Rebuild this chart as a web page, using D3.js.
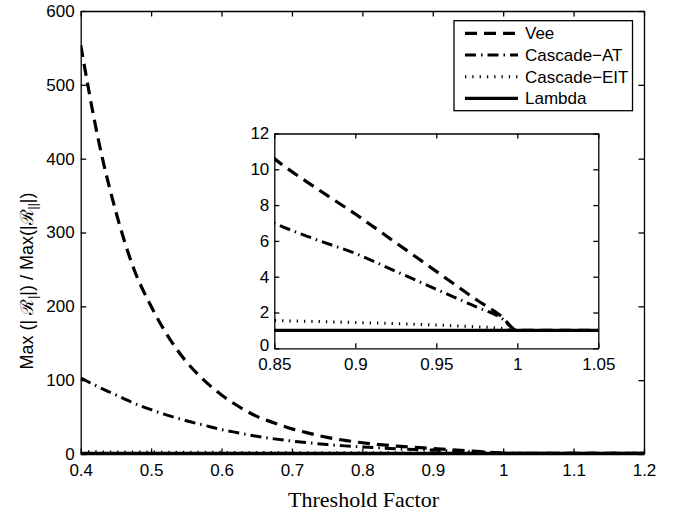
<!DOCTYPE html>
<html>
<head>
<meta charset="utf-8">
<script src="https://cdn.jsdelivr.net/npm/d3@7"></script>
<style>
  body { margin: 0; background: #fff; }
  text { font-family: "Liberation Sans", Arial, sans-serif; fill: #000; }
  .axis path, .axis line { stroke: #000; stroke-width: 1.3; }
  .axis text { font-size: 17px; font-family: "Liberation Sans", Arial, sans-serif; }
</style>
</head>
<body>
<svg class="chart"></svg>
<script>
// threshold factor grid (shared by main plot and inset)
var thresh = [0.40, 0.425, 0.45, 0.475, 0.50, 0.525, 0.55, 0.575, 0.60, 0.625,
              0.65, 0.675, 0.70, 0.725, 0.75, 0.775, 0.80, 0.825, 0.85, 0.875,
              0.90, 0.925, 0.95, 0.975, 0.99, 1.00, 1.05, 1.10, 1.15, 1.20];

var vee = [554, 426, 328, 252, 200, 158, 125, 100, 80, 64,
           51, 42, 34, 28, 22.5, 18.5, 15.2, 12.7, 10.6, 9.0,
           7.5, 5.9, 4.3, 2.7, 1.8, 1.0, 1, 1, 1, 1];

var cascadeAT = [103, 91, 80, 69, 60, 52, 45, 39, 33, 28.5,
                 24, 20.5, 17.5, 15, 12.8, 11, 9.5, 8.2, 7.0, 6.1,
                 5.3, 4.3, 3.3, 2.3, 1.7, 1.0, 1, 1, 1, 1];

var cascadeEIT = [3.0, 2.9, 2.8, 2.7, 2.6, 2.5, 2.4, 2.3, 2.2, 2.12,
                  2.04, 1.96, 1.89, 1.82, 1.76, 1.7, 1.65, 1.6, 1.55, 1.5,
                  1.44, 1.38, 1.3, 1.2, 1.12, 1.0, 1, 1, 1, 1];

var lambda = [1, 1, 1, 1, 1, 1, 1, 1, 1, 1,
              1, 1, 1, 1, 1, 1, 1, 1, 1, 1,
              1, 1, 1, 1, 1, 1, 1, 1, 1, 1];

var seriesNames = ["Vee", "Cascade\u2212AT", "Cascade\u2212EIT", "Lambda"];

var xTicks = [0.4, 0.5, 0.6, 0.7, 0.8, 0.9, 1, 1.1, 1.2];
var yTicks = [0, 100, 200, 300, 400, 500, 600];
var insetXTicks = [0.85, 0.9, 0.95, 1, 1.05];
var insetYTicks = [0, 2, 4, 6, 8, 10, 12];

var styles = [
  {dash: "12,7", width: 3.2},
  {dash: "11,5,1.5,5", width: 3},
  {dash: "1.3,6", width: 3},
  {dash: null, width: 3.2}
];

var W = 677, H = 517;
var svg = d3.select(".chart").attr("width", W).attr("height", H);

var series = [vee, cascadeAT, cascadeEIT, lambda].map(function(vals, i) {
  return {
    name: seriesNames[i],
    style: styles[i],
    values: thresh.map(function(t, j) { return {x: t, y: vals[j]}; })
  };
});

function drawPanel(g, id, left, top, right, bottom, xDom, yDom, xT, yT, xPad, yPad, tick) {
  var x = d3.scaleLinear().domain(xDom).range([left, right]);
  var y = d3.scaleLinear().domain(yDom).range([bottom, top]);

  g.append("rect")
    .attr("x", left).attr("y", top)
    .attr("width", right - left).attr("height", bottom - top)
    .attr("fill", "#fff");

  g.append("clipPath").attr("id", id)
    .append("rect")
    .attr("x", left).attr("y", top - 2)
    .attr("width", right - left).attr("height", bottom - top + 2);

  var line = d3.line()
    .x(function(d) { return x(d.x); })
    .y(function(d) { return y(d.y); })
    .curve(d3.curveMonotoneX);

  g.append("g").attr("clip-path", "url(#" + id + ")")
    .selectAll(".serie")
    .data(series)
    .enter().append("path")
      .attr("class", "serie")
      .attr("d", function(d) { return line(d.values); })
      .attr("fill", "none")
      .attr("stroke", "#000")
      .attr("stroke-width", function(d) { return d.style.width; })
      .attr("stroke-dasharray", function(d) { return d.style.dash; });

  g.append("g").attr("class", "axis")
    .attr("transform", "translate(0," + bottom + ")")
    .call(d3.axisBottom(x).tickValues(xT).tickFormat(function(d) { return String(d); })
      .tickSizeInner(-tick).tickSizeOuter(0).tickPadding(xPad));
  g.append("g").attr("class", "axis")
    .attr("transform", "translate(0," + top + ")")
    .call(d3.axisTop(x).tickValues(xT).tickFormat("")
      .tickSizeInner(-tick).tickSizeOuter(0));
  g.append("g").attr("class", "axis y-left")
    .attr("transform", "translate(" + left + ",0)")
    .call(d3.axisLeft(y).tickValues(yT).tickFormat(function(d) { return String(d); })
      .tickSizeInner(-tick).tickSizeOuter(0).tickPadding(yPad));
  g.append("g").attr("class", "axis")
    .attr("transform", "translate(" + right + ",0)")
    .call(d3.axisRight(y).tickValues(yT).tickFormat("")
      .tickSizeInner(-tick).tickSizeOuter(0));

  g.selectAll(".axis .tick text").attr("fill", "#000");
}

// main axes
var main = svg.append("g");
drawPanel(main, "clipMain", 80.7, 11, 644, 454, [0.4, 1.2], [0, 600],
          xTicks, yTicks, 10, 6, 5.5);

// legend
var legend = svg.append("g");
legend.append("rect")
  .attr("x", 454).attr("y", 20.7)
  .attr("width", 178.5).attr("height", 90)
  .attr("fill", "#fff").attr("stroke", "#000").attr("stroke-width", 1.3);

var item = legend.selectAll(".legend")
  .data(series)
  .enter().append("g")
    .attr("class", "legend")
    .attr("transform", function(d, i) { return "translate(0," + (33.3 + i * 21.7) + ")"; });

item.append("line")
  .attr("x1", 465).attr("x2", 518)
  .attr("stroke", "#000")
  .attr("stroke-width", function(d) { return d.style.width; })
  .attr("stroke-dasharray", function(d) { return d.style.dash; });

item.append("text")
  .attr("x", 525)
  .attr("dy", "0.35em")
  .style("font-size", "17px")
  .text(function(d) { return d.name; });

// inset
var inset = svg.append("g");
drawPanel(inset, "clipInset", 274.3, 133.5, 598.3, 348.3, [0.85, 1.05], [0, 12],
          insetXTicks, insetYTicks, 9.5, 5, 5);
// nudge the inset's "0" up a little so it doesn't collide with "0.85"
inset.selectAll(".y-left .tick text")
  .filter(function(d) { return d === 0; })
  .attr("dy", "0.15em");

// axis titles
svg.append("text")
  .attr("x", 363.5).attr("y", 507)
  .attr("text-anchor", "middle")
  .style("font-family", "'Liberation Serif', 'Times New Roman', serif")
  .style("font-size", "22px")
  .text("Threshold Factor");

var ylab = svg.append("text")
  .attr("transform", "translate(33,281) rotate(-90)")
  .attr("text-anchor", "middle")
  .style("font-size", "18px");
ylab.append("tspan").text("Max (| \u211B");
ylab.append("tspan").attr("dy", 4).style("font-size", "12px").text("|");
ylab.append("tspan").attr("dy", -4).text("|) / Max(|\u211B");
ylab.append("tspan").attr("dy", 4).style("font-size", "12px").text("||");
ylab.append("tspan").attr("dy", -4).text("|)");
</script>
</body>
</html>
